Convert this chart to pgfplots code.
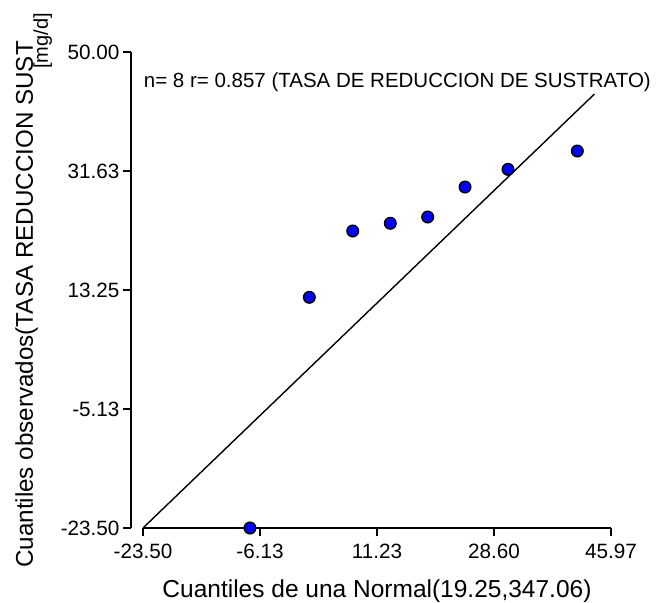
\documentclass[border=0pt]{standalone}
\usepackage{fontspec}
\setmainfont{Liberation Sans}
\usepackage{pgfplots}
\pgfplotsset{compat=1.18}

\definecolor{ptblue}{RGB}{0,0,255}

% Observed quantiles against normal quantiles
\pgfplotstableread{
qn     qo
-7.62  -23.50
 1.19   12.12
 7.63   22.36
13.21   23.55
18.76   24.52
24.30   29.15
30.68   31.88
40.97   34.71
}\qqdata

\begin{document}
\begin{tikzpicture}
\begin{axis}[
  name=ax,
  scale only axis,
  width=468pt, height=476pt,
  xmin=-23.5, xmax=45.97,
  ymin=-23.5, ymax=50,
  axis lines*=left,
  axis y line shift=12pt,
  axis line style={line width=2pt, black},
  clip=false,
  xtick={-23.5,-6.1325,11.235,28.6025,45.97},
  xticklabels={-23.50,-6.13,11.23,28.60,45.97},
  ytick={-23.5,-5.125,13.25,31.625,50},
  yticklabels={-23.50,-5.13,13.25,31.63,50.00},
  tick align=outside,
  major tick length=8pt,
  tick style={line width=2pt, black},
  ticklabel style={font=\fontsize{20.7}{24}\selectfont},
  xticklabel style={yshift=-5pt},
  xlabel={Cuantiles de una Normal(19.25,347.06)},
  xlabel style={at={(axis description cs:0.5,0)}, anchor=base, yshift=-69pt,
                font=\fontsize{24.5}{28}\selectfont},
]
  % reference line y = x
  \addplot[black, line width=1.4pt] coordinates {(-23.5,-23.5) (43.5,43.5)};
  % sample points
  \addplot[only marks, mark=*, mark size=5.8pt,
           mark options={fill=ptblue, draw=black, line width=1.4pt}]
    table[x=qn, y=qo] {\qqdata};
  \node[anchor=base west, inner sep=0, font=\fontsize{20.5}{24}\selectfont]
    at (axis cs:-23.4,44.55) {n= 8 r= 0.857 (TASA DE REDUCCION DE SUSTRATO)};
\end{axis}
% y-axis title and unit
\node[rotate=90, anchor=base west, inner sep=0, font=\fontsize{24.2}{28}\selectfont]
  at ([shift={(-110pt,-40pt)}]ax.south west) {Cuantiles observados(TASA REDUCCION SUST};
\node[rotate=90, anchor=base east, inner sep=0, font=\fontsize{20}{24}\selectfont]
  at ([shift={(-95pt,515pt)}]ax.south west) {[mg/d]};
\pgfresetboundingbox
\path ([shift={(-143pt,-74pt)}]ax.south west) rectangle ([shift={(47pt,52pt)}]ax.north east);
\end{tikzpicture}
\end{document}
